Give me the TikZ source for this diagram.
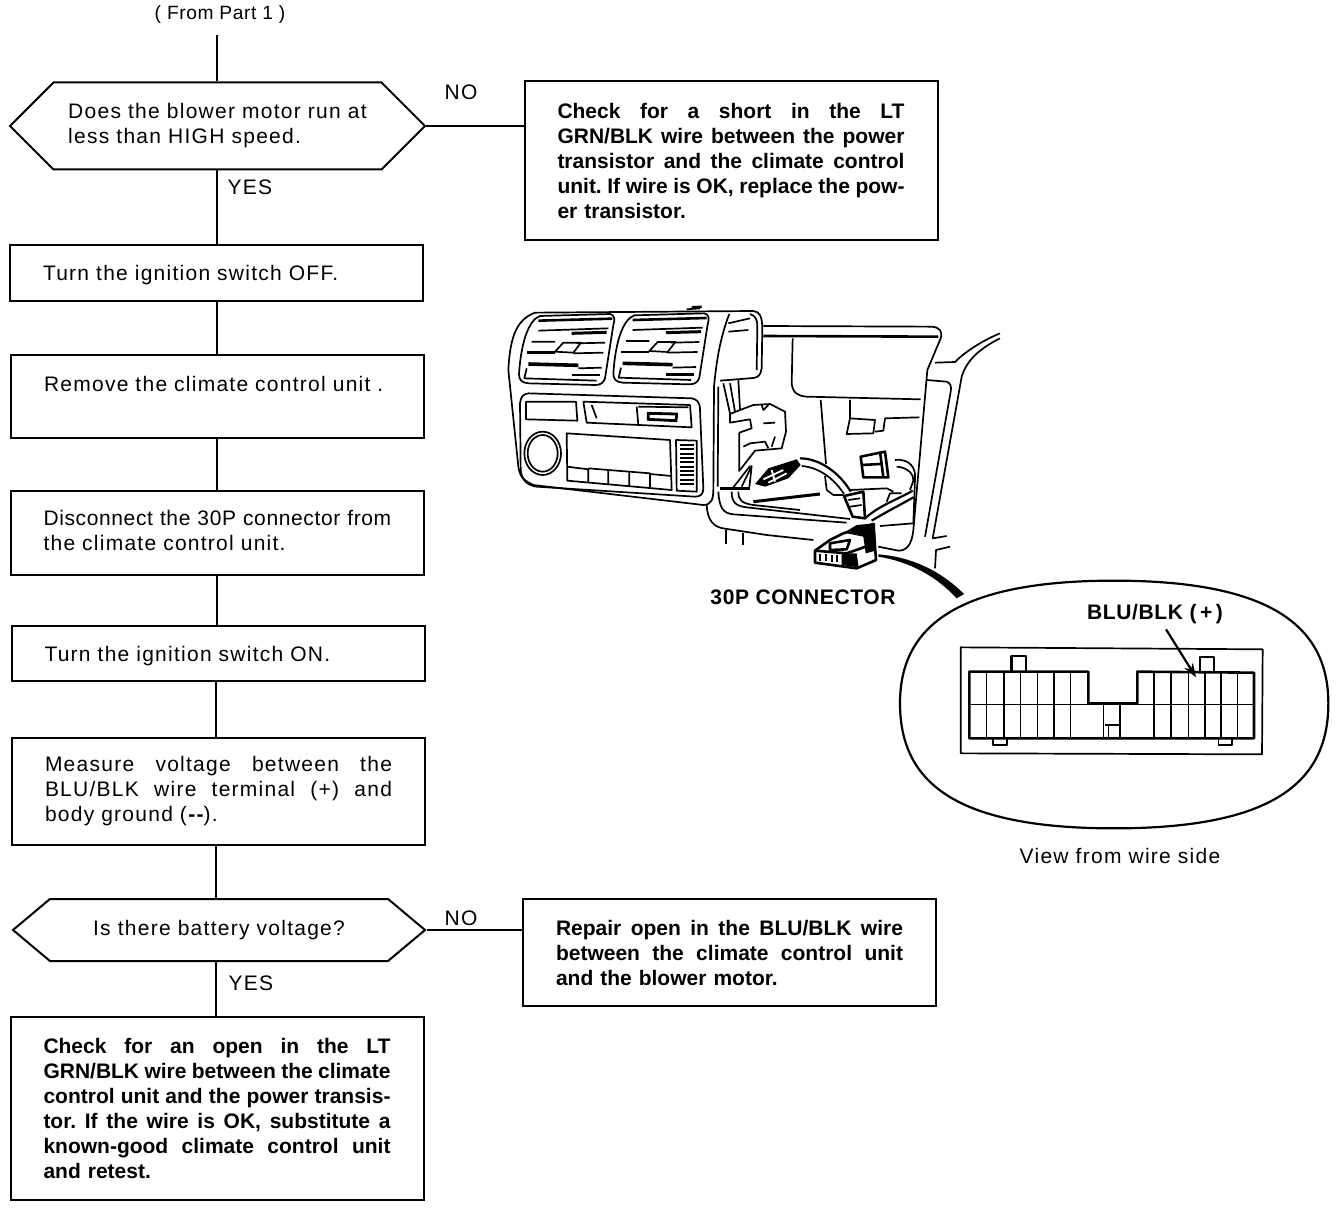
\documentclass[tikz,border=0pt]{standalone}
\usepackage{fontspec}
\usetikzlibrary{shapes.symbols,arrows.meta}
\newfontfamily\manualfont[LetterSpace=6]{Liberation Sans}
\newfontfamily\manualtight[LetterSpace=3]{Liberation Sans}
\newfontfamily\manualbold{Liberation Sans Bold}
\newcommand{\fullline}[1]{\makebox[173.5pt][s]{\spaceskip=0pt\xspaceskip=0pt\relax #1}\\}
\newcommand{\nudged}[2]{\raisebox{#1}[\height][\depth]{#2}}
\begin{document}
\begin{tikzpicture}[
        x=0.5pt,
        y=-0.5pt,
        every node/.style={font=\manualfont\fontsize{10.5}{12.5}\selectfont},
        flowline/.style={line width=1pt},
        stepbox/.style={draw, line width=1pt, align=left, inner xsep=16.5pt, inner ysep=0pt, text width=173.5pt},
        boldbox/.style={stepbox, font=\manualbold\frenchspacing\fontsize{10.5}{12.5}\selectfont},
        askbox/.style={draw, line width=1pt, align=left, inner sep=0pt, minimum width=207.5pt,
            shape=signal, signal to=east and west, signal pointer angle=90},
        caption/.style={inner sep=0pt},
        boldcaption/.style={inner sep=0pt, font=\manualtight\bfseries\fontsize{10.5}{12.5}\selectfont},
        sketch/.style={line width=0.85pt, line join=round},
        plug/.style={line width=1.3pt, line join=round}
    ]
    \useasboundingbox (0,0) rectangle (1344,1208);

    % Flow chart, left column
    \coordinate (fromtop) at (217,35);
    \node[caption, font=\manualtight\fontsize{9.6}{12}\selectfont] (frompart) at (220,15) {( From Part 1 )};
    \node[askbox, minimum height=43.5pt] (askspeed) at (217.5,126)
    {Does the blower motor run at\\less than HIGH speed.};
    \node[stepbox, minimum height=28pt] (ignoff) at (216.5,273) {\nudged{-1pt}{Turn the ignition switch OFF.}};
    \node[stepbox, minimum height=41.5pt] (removeunit) at (217.5,396.5)
    {Remove the climate control unit .\\ \mbox{}};
    \node[stepbox, minimum height=42pt] (disconnect) at (217,533)
    {\nudged{1.3pt}{\manualtight Disconnect the 30P connector from}\\\nudged{1.3pt}{the climate control unit.}};
    \node[stepbox, minimum height=27.5pt] (ignon) at (218,653.5) {\nudged{-1.3pt}{Turn the ignition switch ON.}};
    \node[stepbox, minimum height=53.5pt] (measure) at (218.5,791.5)
    {\fullline{Measure voltage between the}\fullline{BLU/BLK wire terminal (+) and}body ground (\textbf{--}).};
    \node[askbox, minimum width=206pt, minimum height=31pt, signal pointer angle=80] (askbattery) at (219,930)
    {Is there battery voltage?};
    \node[boldbox, minimum height=91.5pt] (openwire) at (217,1108.5)
    {\fullline{Check for an open in the LT}\fullline{GRN/BLK wire between the climate}%
    \fullline{control unit and the power transis-}\fullline{tor. If the wire is OK, substitute a}%
    \fullline{known-good climate control unit}and retest.};

    % Flow chart, right column
    \node[boldbox, minimum height=79.5pt] (shortwire) at (731,160.5)
    {\fullline{Check for a short in the LT}\fullline{GRN/BLK wire between the power}%
    \fullline{transistor and the climate control}\fullline{unit. If wire is OK, replace the pow-}er transistor.};
    \node[boldbox, minimum height=53.5pt] (repairwire) at (729.5,952.5)
    {\fullline{Repair open in the BLU/BLK wire}\fullline{between the climate control unit}and the blower motor.};

    % Connectors
    \draw[flowline] (fromtop) -- (fromtop |- askspeed.north);
    \draw[flowline] (askspeed.south -| ignoff.north) -- (ignoff.north);
    \draw[flowline] (ignoff.south) -- (ignoff.south |- removeunit.north);
    \draw[flowline] (removeunit.south -| ignoff.south) -- (disconnect.north -| ignoff.south);
    \draw[flowline] (disconnect.south -| ignoff.south) -- (ignon.north -| ignoff.south);
    \draw[flowline] (ignon.south -| measure.north) ++(-3,0) coordinate (measuretop) -- (measuretop |- measure.north);
    \draw[flowline] (measure.south -| measuretop) -- (askbattery.north -| measuretop);
    \draw[flowline] (askbattery.south -| measuretop) -- (openwire.north -| measuretop);
    \draw[flowline] (askspeed.east) -- (shortwire.west |- askspeed.east);
    \draw[flowline] (askbattery.east) -- (repairwire.west |- askbattery.east);

    % Labels on the connectors
    \node[caption] (noshort) at (461,92) {NO};
    \node[caption] (yesspeed) at (250,187) {YES};
    \node[caption] (norepair) at (461,918) {NO};
    \node[caption] (yesbattery) at (251,983) {YES};

    % Dash panel, typed at 3x from (490,290)
    \begin{scope}[shift={(490,290)}, x=0.16667pt, y=-0.16667pt]
        % Panel outline
        \draw[sketch] (55,240) .. controls (60,150) and (75,90) .. (135,68) -- (790,63)
            .. controls (810,65) and (815,80) .. (817,110) -- (815,235)
            .. controls (812,255) and (805,262) .. (790,264) -- (690,272);
        \draw[sketch] (55,240) -- (85,530) .. controls (90,565) and (105,572) .. (130,585)
            -- (640,645) .. controls (665,645) and (670,625) .. (670,600) -- (672,290)
            .. controls (680,200) and (695,130) .. (718,72);
        \draw[sketch] (685,290) -- (683,590);
        \draw[sketch] (780,72) .. controls (798,78) and (802,90) .. (802,110) -- (800,240);
        \draw[sketch] (715,100) -- (780,85) (715,125) -- (775,120);
        \draw[sketch] (590,58) -- (630,55);

        % Lower panel frame, display and buttons
        \draw[sketch] (90,340) .. controls (92,320) and (100,312) .. (115,310) -- (605,325)
            .. controls (622,328) and (630,338) .. (630,360) -- (640,595)
            .. controls (640,612) and (632,620) .. (615,620) -- (140,590)
            .. controls (110,585) and (95,570) .. (92,540) -- cycle;
        \draw[sketch] (108,335) -- (258,335) -- (262,392) -- (108,388) -- cycle;
        \draw[sketch] (280,335) -- (600,345) -- (605,412) -- (290,398) -- cycle;
        \draw[sketch] (305,345) -- (320,385);
        \draw[sketch] (440,350) -- (445,405) (445,350) -- (595,352);
        \draw[line width=1.4pt] (475,370) -- (560,372) -- (558,392) -- (475,388) -- cycle;
        \draw[sketch] (158,490) ellipse [x radius=55, y radius=65];
        \draw[sketch] (158,490) ellipse [x radius=45, y radius=55];
        \draw[sketch] (230,430) -- (540,450) -- (545,600) -- (232,572) -- cycle;
        \draw[sketch] (232,530) -- (295,538) -- (295,578) (295,535) -- (355,540) -- (355,582)
            (355,540) -- (418,545) -- (418,588) (418,545) -- (480,550) -- (480,592) (480,552) -- (545,558);
        \draw[sketch] (558,450) -- (620,452) -- (620,605) -- (560,602) -- cycle;
        \foreach \sy in {465,478,...,590} {
            \draw[sketch] (570,\sy) -- (612,\sy);
        }

        % Glove box opening and pillar
        \draw[sketch] (820,108) -- (1325,110) .. controls (1350,112) and (1358,125) .. (1352,145)
            -- (1312,240) -- (1270,720) .. controls (1265,765) and (1250,782) .. (1225,782) -- (1165,770);
        \draw[line width=1.3pt] (820,138) -- (1345,140);
        \draw[sketch] (908,145) -- (905,280) .. controls (908,310) and (925,318) .. (950,320) -- (1292,328);
        \draw[sketch] (1530,130) .. controls (1470,155) and (1420,190) .. (1395,216) -- (1335,218);
        \draw[sketch] (1530,145) .. controls (1470,175) and (1430,210) .. (1415,260) -- (1328,745) -- (1370,738);
        \draw[sketch] (1310,270) -- (1370,275) .. controls (1382,280) and (1385,290) .. (1382,305) -- (1305,740);
        \draw[sketch] (1335,835) -- (1338,780) -- (1380,770);
        \draw[sketch] (700,280) -- (720,370) (720,280) -- (735,365) (745,270) -- (750,360);

        % Thick lead to the enlarged view
        \fill (1165,793) .. controls (1260,800) and (1350,840) .. (1422,912)
            -- (1400,925) .. controls (1340,860) and (1260,815) .. (1165,800) -- cycle;
    \end{scope}

    % Vents, typed at 3x from (505,300)
    \begin{scope}[shift={(505,300)}, x=0.16667pt, y=-0.16667pt]
        \draw[line width=1.2pt] (560,22) -- (590,20);
        \foreach \vx/\vy in {0/0,283/-2} {
            \begin{scope}[shift={(\vx,\vy)}]
                \draw[sketch] (42,222) .. controls (48,130) and (70,60) .. (105,48) -- (315,42)
                    .. controls (330,45) and (330,60) .. (325,75) -- (300,235)
                    .. controls (295,250) and (285,255) .. (270,255) -- (70,250)
                    .. controls (50,248) and (42,240) .. (42,222) -- cycle;
                \draw[line width=1.3pt] (100,62) -- (322,56);
                \draw[sketch] (100,92) -- (310,85);
                \draw[line width=1.5pt] (200,100) -- (305,97);
                \draw[sketch] (80,125) -- (150,125) (215,130) -- (300,128);
                \draw[line width=1.4pt] (65,158) -- (150,158);
                \draw[sketch] (205,160) -- (295,158);
                \draw[line width=1.8pt] (70,192) -- (220,196);
                \draw[sketch] (220,205) -- (290,203);
                \draw[sketch] (65,205) -- (58,235) -- (275,242);
                \draw[line width=1.3pt] (200,225) -- (285,225);
                \draw[sketch] (150,155) -- (175,128) -- (228,128) -- (205,158) -- cycle;
            \end{scope}
        }
    \end{scope}

    % Bracket, wires and 30P connector, typed at 3x from (700,390)
    \begin{scope}[shift={(700,390)}, x=0.16667pt, y=-0.16667pt]
        % Bracket
        \draw[sketch] (90,72) -- (120,60) -- (160,45) -- (210,42) -- (255,65) -- (258,125) -- (245,175)
            -- (165,182) -- (120,240);
        \draw[sketch] (90,72) -- (90,98) -- (150,88) -- (155,115) -- (118,128) -- (118,245);
        \draw[sketch] (185,45) -- (190,60) -- (205,45);
        \draw[sketch] (190,100) -- (225,98) (130,170) -- (150,160) -- (195,155) -- (205,175) (225,140) -- (215,170);

        % Side plug
        \fill (165,282) -- (205,235) -- (290,208) -- (302,225) -- (265,265) -- (195,290) -- cycle;
        \draw[white, line width=0.9pt] (190,268) -- (250,240) (205,278) -- (260,250) (215,240) -- (225,275);

        % Wires
        \draw[line width=1.1pt] (300,205) .. controls (360,205) and (420,250) .. (452,305);
        \draw[sketch] (305,228) .. controls (360,232) and (405,270) .. (432,312);
        \draw[sketch] (375,258) -- (380,300) -- (400,315) -- (430,315);
        \draw[line width=1.2pt] (60,295) -- (150,295);
        \draw[sketch] (100,292) -- (150,228) (125,290) -- (155,228) -- (148,292);
        \draw[sketch] (55,305) .. controls (58,355) and (70,370) .. (100,373) -- (440,398);
        \draw[sketch] (95,305) .. controls (95,340) and (110,348) .. (140,352) -- (450,387);
        \draw[sketch] (115,305) .. controls (115,330) and (125,340) .. (160,345) -- (300,360);
        \draw[line width=1.5pt] (160,335) -- (360,312);
        \draw[sketch] (20,345) .. controls (22,390) and (40,412) .. (75,416) -- (200,435) -- (340,450);
        \draw[sketch] (78,420) -- (78,462) (128,428) -- (128,465);

        % Junction and right plug
        \draw[plug] (432,318) -- (490,305) -- (495,385) -- (458,380) -- cycle;
        \draw[sketch] (445,330) -- (480,325) (450,350) -- (485,345);
        \draw[line width=1.1pt] (495,385) .. controls (540,345) and (590,330) .. (638,302);
        \draw[line width=1.1pt] (515,392) .. controls (560,365) and (600,345) .. (640,322);
        \draw[sketch] (560,335) -- (570,310) -- (605,310);
        \draw[sketch] (450,300) -- (560,295) -- (580,305);
        \draw[plug] (482,200) -- (555,185) -- (565,262) -- (490,262) -- cycle;
        \draw[plug] (540,185) -- (550,262) (485,225) -- (540,222);
        \draw[sketch] (585,210) .. controls (630,205) and (648,235) .. (645,265) -- (640,400) -- (540,408);
        \draw[sketch] (590,230) .. controls (625,232) and (642,255) .. (640,272) -- (630,300);
        \draw[sketch] (362,30) -- (378,222);
        \draw[sketch] (450,30) -- (450,85) -- (440,132) -- (520,130) -- (525,90) -- (450,85);
        \draw[sketch] (555,85) -- (550,122) -- (525,125) (555,85) -- (658,82);

        % 30P connector
        \draw[plug] (345,482) -- (390,450) -- (430,430) -- (520,402) -- (528,510) -- (470,535) -- (345,518) -- cycle;
        \fill (432,428) -- (470,405) -- (525,400) -- (527,482) -- (497,490) -- (490,440) -- cycle;
        \fill (425,490) -- (470,490) -- (476,532) -- (425,525) -- cycle;
        \draw[plug] (390,460) -- (450,450) -- (440,478) -- (390,480) -- cycle;
        \draw[plug] (345,482) -- (440,490) -- (497,470);
        \draw[sketch] (360,492) -- (360,512) (378,492) -- (378,514) (396,494) -- (396,516) (412,494) -- (412,516);
    \end{scope}

    % Enlarged view of the connector, typed at 3x from (890,570)
    \begin{scope}[shift={(890,570)}, x=0.16667pt, y=-0.16667pt]
        \draw[line width=1.1pt] (30,400) .. controls (30,170) and (200,32) .. (672,32)
            .. controls (1145,32) and (1315,170) .. (1315,400)
            .. controls (1315,640) and (1145,775) .. (672,775)
            .. controls (200,775) and (30,640) .. (30,400) -- cycle;
        \draw[sketch] (212,232) -- (1118,238) -- (1116,553) -- (212,550) -- cycle;
        \draw[plug] (238,305) -- (595,305) -- (595,400) -- (742,400) -- (742,305) -- (1092,308)
            -- (1092,505) -- (238,505) -- cycle;
        \draw[line width=0.7pt] (242,403) -- (1090,403);
        \foreach \px in {290,342,392,442,492,542,792,843,895,945,993,1042} {
            \draw[line width=0.7pt] (\px,305) -- (\px,505);
        }
        \foreach \px in {640,690} {
            \draw[line width=0.7pt] (\px,400) -- (\px,505);
        }
        \draw[line width=0.7pt] (645,465) -- (690,465) (655,465) -- (655,505);
        \draw[plug] (365,305) -- (365,258) -- (408,258) -- (408,305);
        \draw[sketch] (930,305) -- (930,262) -- (972,262) -- (972,305);
        \draw[sketch] (310,508) -- (310,525) -- (350,525) -- (350,508);
        \draw[sketch] (985,508) -- (985,525) -- (1025,525) -- (1025,508);
        \coordinate (pinblu) at (918,322);
        \coordinate (blustart) at (828,178);
    \end{scope}

    % Labels of the illustration
    \node[boldcaption] (connlabel) at (803,597) {30P CONNECTOR};
    \node[boldcaption] (blulabel) at (1155,614) {BLU/BLK (\,+\,)};
    \node[caption] (viewlabel) at (1120,856) {View from wire side};
    \draw[-{Stealth[length=7pt,width=5pt]}, line width=1.1pt] (blustart) -- (pinblu);

    \end{tikzpicture}
\end{document}
